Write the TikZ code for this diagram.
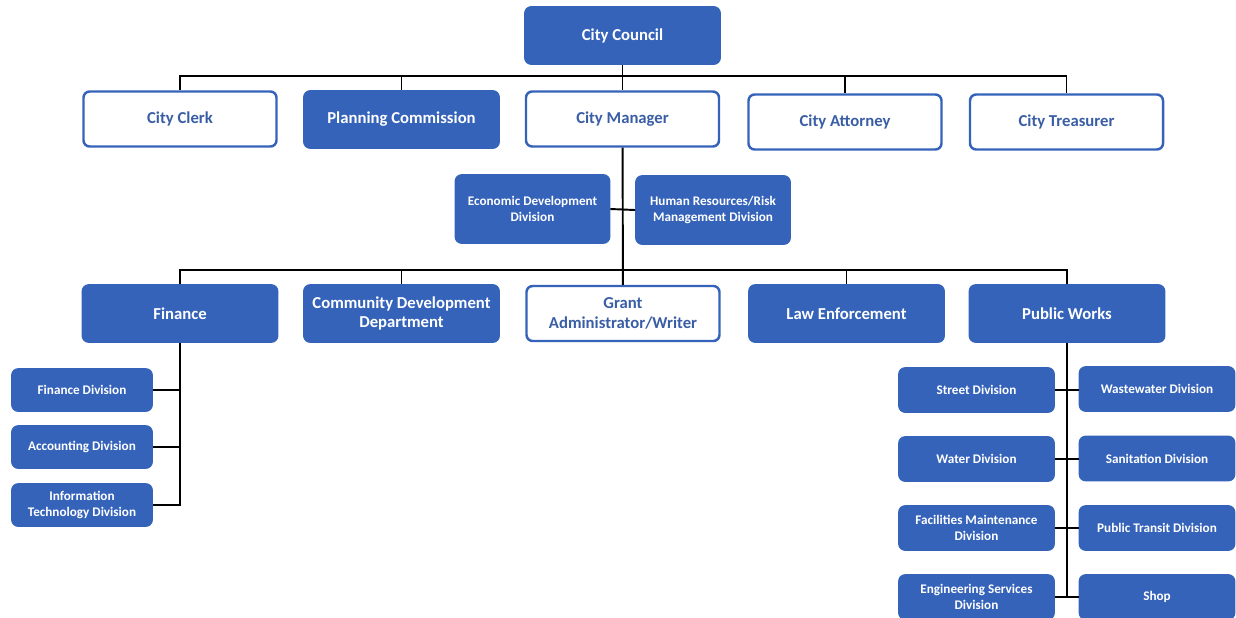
\documentclass[tikz,border=0pt]{standalone}
\usepackage{fontspec}
\setmainfont{Carlito}
\usetikzlibrary{positioning}
\definecolor{cblue}{HTML}{3563BA}
\definecolor{ctext}{HTML}{3A5EA6}
\tikzset{
    boxb/.style = {rectangle, rounded corners=3.5pt, draw=cblue, line width=1pt, fill=cblue, align=center, text=white, font=\bfseries\fontsize{9.5}{11}\selectfont, minimum width=3.9cm, minimum height=1.14cm, inner sep=1pt},
    boxw/.style = {boxb, fill=white, text=ctext, line width=1.4pt, minimum width=3.86cm, minimum height=1.1cm},
    boxm/.style = {boxb, font=\bfseries\fontsize{7.5}{9.5}\selectfont, minimum width=3.08cm, minimum height=1.36cm},
    boxf/.style = {boxb, font=\bfseries\fontsize{7.5}{9.5}\selectfont, minimum width=2.8cm, minimum height=0.84cm},
    boxp/.style = {boxb, font=\bfseries\fontsize{7.5}{9.5}\selectfont, minimum width=3.1cm, minimum height=0.88cm},
    edgen/.style = {-, line width=1.1pt, black},
}
\begin{document}
\begin{tikzpicture}
\path[use as bounding box] (0,0) rectangle (24.72,-12.34);
%
\node[boxb] at (12.45,-0.71) (council) {City Council};
\node[boxw] at (3.6,-2.38) (clerk) {City Clerk};
\node[boxb] at (8.03,-2.39) (planning) {Planning Commission};
\node[boxw] at (12.45,-2.38) (manager) {City Manager};
\node[boxw] at (16.9,-2.44) (attorney) {City Attorney};
\node[boxw] at (21.33,-2.44) (treasurer) {City Treasurer};
%
\node[boxm] at (10.65,-4.18) (econ) {Economic Development\\Division};
\node[boxm] at (14.26,-4.2) (hr) {Human Resources/Risk\\Management Division};
%
\node[boxb] at (3.6,-6.27) (finance) {Finance};
\node[boxb] at (8.03,-6.27) (commdev) {Community Development\\Department};
\node[boxw] at (12.46,-6.27) (grant) {Grant\\Administrator/Writer};
\node[boxb] at (16.93,-6.27) (law) {Law Enforcement};
\node[boxb] at (21.34,-6.27) (works) {Public Works};
%
\node[boxf] at (1.64,-7.8) (findiv) {Finance Division};
\node[boxf] at (1.64,-8.94) (accdiv) {Accounting Division};
\node[boxf] at (1.64,-10.1) (itdiv) {Information\\Technology Division};
%
\node[boxp] at (19.53,-7.8) (street) {Street Division};
\node[boxp] at (19.53,-9.18) (water) {Water Division};
\node[boxp] at (19.53,-10.56) (facil) {Facilities Maintenance\\Division};
\node[boxp] at (19.53,-11.94) (engin) {Engineering Services\\Division};
\node[boxp] at (23.14,-7.78) (waste) {Wastewater Division};
\node[boxp] at (23.14,-9.17) (sanit) {Sanitation Division};
\node[boxp] at (23.14,-10.56) (transit) {Public Transit Division};
\node[boxp] at (23.14,-11.94) (shop) {Shop};
%
\coordinate (bus1) at (12.45,-1.52);
\coordinate (bus2) at (12.45,-5.4);
%
\draw[edgen] (council) -- (manager);
\draw[edgen] (bus1) -| (clerk.north);
\draw[edgen] (bus1) -| (planning.north);
\draw[edgen] (bus1) -| (attorney.north);
\draw[edgen] (bus1) -| (treasurer.north);
\draw[edgen] (manager) -- (grant);
\draw[edgen] (econ.east) -- (hr.west);
\draw[edgen] (bus2) -| (finance.north);
\draw[edgen] (bus2) -| (commdev.north);
\draw[edgen] (bus2) -| (law.north);
\draw[edgen] (bus2) -| (works.north);
%
\draw[edgen] (finance.south) |- (itdiv.east);
\draw[edgen] (findiv.east) -- (findiv.east -| finance.south);
\draw[edgen] (accdiv.east) -- (accdiv.east -| finance.south);
%
\draw[edgen] (works.south) -- (works.south |- shop.west);
\draw[edgen] (street.east) -- (street.east -| waste.west);
\draw[edgen] (water.east) -- (water.east -| sanit.west);
\draw[edgen] (facil.east) -- (transit.west);
\draw[edgen] (engin.east) -- (shop.west);

\end{tikzpicture}
\end{document}
